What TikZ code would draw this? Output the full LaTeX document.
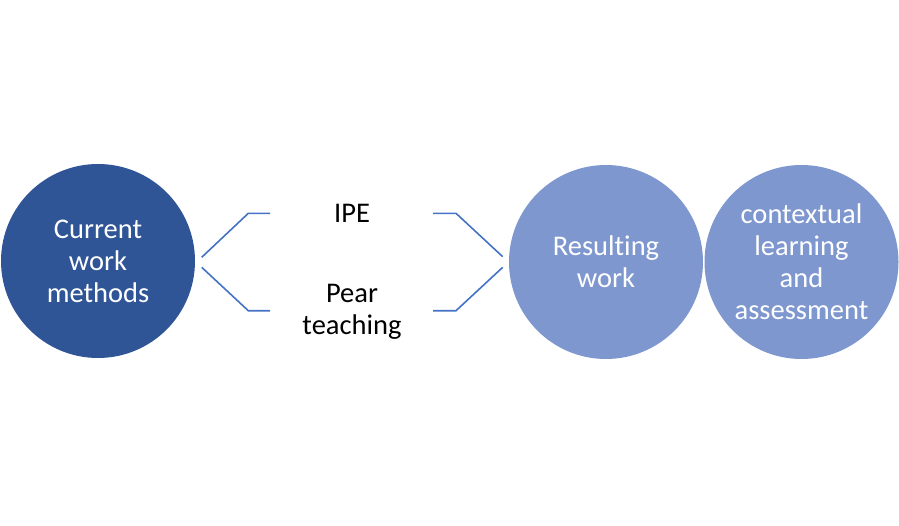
\documentclass[tikz,border=0pt]{standalone}
\usepackage{fontspec}
\setmainfont{Carlito}[Ligatures=CommonOff]
\definecolor{darkblue}{HTML}{2F5597}
\definecolor{lightblue}{HTML}{7F97CF}
\definecolor{linkblue}{HTML}{4472C4}
\begin{document}
\begin{tikzpicture}[x=1pt,y=-1pt,
  circ/.style={circle,minimum size=194pt,inner sep=0pt,text=white,align=center,
    font=\fontsize{28.5}{32}\selectfont},
  lbl/.style={align=center,text=black,font=\fontsize{28.5}{32}\selectfont},
  link/.style={draw=linkblue,line width=1.6pt}]
\useasboundingbox (0,0) rectangle (899,525);
\node[circ,fill=darkblue] (cur) at (98,261) {Current\\work\\methods};
\node[circ,fill=lightblue] (res) at (606,262) {Resulting\\work};
\node[circ,fill=lightblue] (ctx) at (801.5,262) {contextual\\learning\\and\\assessment};
\node[lbl] (ipe) at (352,213) {IPE};
\node[lbl] (pear) at (352,312) {Pear\\teaching};
\coordinate (a1) at (201.7,257.3);
\coordinate (a2) at (270,213.3);
\coordinate (b1) at (201.7,267.3);
\coordinate (b2) at (270,310.7);
\coordinate (c1) at (433,213.3);
\coordinate (c2) at (502.7,256.7);
\coordinate (d1) at (433,310.7);
\coordinate (d2) at (502.7,267.3);
\draw[link] (a1) -- (248.3,213.3) -- (a2);
\draw[link] (b1) -- (248.3,310.7) -- (b2);
\draw[link] (c1) -- (456,213.3) -- (c2);
\draw[link] (d1) -- (456,310.7) -- (d2);
\end{tikzpicture}
\end{document}
